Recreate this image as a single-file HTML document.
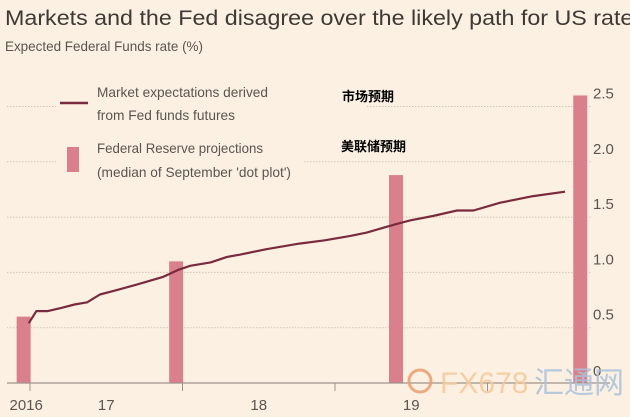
<!DOCTYPE html>
<html><head><meta charset="utf-8"><style>
html,body{margin:0;padding:0;background:#fcf0e2;}
svg{display:block;font-family:"Liberation Sans","Noto Sans CJK SC",sans-serif;}
</style></head><body>
<svg id="chart" width="630" height="417" viewBox="0 0 630 417" xmlns="http://www.w3.org/2000/svg">
<rect width="630" height="417" fill="#fcf0e2"/>
<text x="5" y="25" font-size="21" fill="#3d3935" textLength="640" lengthAdjust="spacingAndGlyphs">Markets and the Fed disagree over the likely path for US rates</text>
<text x="5" y="51" font-size="14" fill="#5a5550" textLength="198" lengthAdjust="spacingAndGlyphs">Expected Federal Funds rate (%)</text>
<g id="grid"></g>
<g id="bars"></g>
<g id="legend-bg"></g>
<g id="line"></g>
<g id="axes"></g>
<g>
<line x1="60" y1="103" x2="88" y2="103" stroke="#7a2a3e" stroke-width="2.5"/>
<text x="97" y="97" font-size="14" fill="#5a5550" textLength="171" lengthAdjust="spacingAndGlyphs">Market expectations derived</text>
<text x="97" y="120" font-size="14" fill="#5a5550" textLength="138" lengthAdjust="spacingAndGlyphs">from Fed funds futures</text>
<rect x="67" y="147" width="12" height="25" fill="#d9808c"/>
<text x="97" y="153" font-size="14" fill="#5a5550" textLength="166" lengthAdjust="spacingAndGlyphs">Federal Reserve projections</text>
<text x="97" y="177" font-size="14" fill="#5a5550" textLength="194" lengthAdjust="spacingAndGlyphs">(median of September 'dot plot')</text>
<text x="342" y="101" font-size="13" font-weight="bold" fill="#000">市场预期</text>
<text x="341" y="151" font-size="13" font-weight="bold" fill="#000">美联储预期</text>
</g>
<g opacity="0.85">
<circle cx="420" cy="381" r="11" fill="none" stroke="#e8a070" stroke-width="3"/>
<text x="440" y="393" font-size="30" fill="#f6c99a">FX678</text>
<text x="534" y="393" font-size="30" fill="#a9c2dc">汇通网</text>
</g>
</svg>
<script>
const yTicks=[0,0.5,1.0,1.5,2.0,2.5];
const yTickLabels=["0","0.5","1.0","1.5","2.0","2.5"];
const xTickMonths=[0,12,24,36];
const xLabels=["2016","17","18","19"];
const xLabelMonths=[-0.3,6,18,30];
const barMonths=[-0.5,11.5,28.8,43.3];
const barValues=[0.6,1.1,1.88,2.6];
const lineMonths=[-0.1,0.5,1.4,2.5,3.5,4.5,5.5,6.5,8.4,10.5,11.6,12.6,14.2,15.5,16.5,18.6,21.2,23.2,25.2,26.5,28.6,29.9,31.7,33.6,34.9,37.0,39.6,42.1];
const lineValues=[0.54,0.65,0.65,0.68,0.71,0.73,0.80,0.83,0.89,0.96,1.02,1.06,1.09,1.14,1.16,1.21,1.26,1.29,1.33,1.36,1.43,1.47,1.51,1.56,1.56,1.63,1.69,1.73];
const NS="http://www.w3.org/2000/svg";
function x(m){return 30+m*152.5/12;}
function y(v){return 383-v*110.6;}
function mk(tag,attrs,parent){const e=document.createElementNS(NS,tag);for(const k in attrs)e.setAttribute(k,attrs[k]);parent.appendChild(e);return e;}
const grid=document.getElementById('grid'),bars=document.getElementById('bars'),line=document.getElementById('line'),axes=document.getElementById('axes'),lbg=document.getElementById('legend-bg');
yTicks.forEach((v,i)=>{
 if(v>0){const g=mk('line',{x1:7,x2:592,y1:y(v),y2:y(v),stroke:'#cfc5b8','stroke-width':1,'stroke-dasharray':'1.5 1.5'},grid);
 
 }
 const t=mk('text',{x:593,y:y(v)-(v===0?7:8),'font-size':15,fill:'#5a5550'},axes);
 t.textContent=yTickLabels[i];
 
 
});
const cover1=mk('rect',{x:56,y:100,width:310,height:12,fill:'#fcf0e2'},lbg);


const cover2=mk('rect',{x:56,y:157,width:248,height:12,fill:'#fcf0e2'},lbg);


barMonths.forEach((m,i)=>{
 const r=mk('rect',{x:x(m)-7,y:y(barValues[i]),width:14,height:y(0)-y(barValues[i]),fill:'#d9808c'},bars);
 
 
});
const pts=lineMonths.map((m,i)=>x(m).toFixed(1)+','+y(lineValues[i]).toFixed(1)).join(' ');
const pl=mk('polyline',{points:pts,fill:'none',stroke:'#7a2a3e','stroke-width':2.2,'stroke-linejoin':'round'},line);


const ax=mk('line',{x1:7,x2:610,y1:y(0),y2:y(0),stroke:'#9c948b','stroke-width':1.2},axes);


xTickMonths.forEach((m,i)=>{
 const t=mk('line',{x1:x(m),x2:x(m),y1:y(0),y2:y(0)+8,stroke:'#9c948b','stroke-width':1},axes);
 
 
});
xLabels.forEach((l,i)=>{
 const t=mk('text',{x:x(xLabelMonths[i]),y:410,'font-size':15,fill:'#5a5550','text-anchor':'middle'},axes);
 t.textContent=l;
 
 
});
</script>
</body></html>
